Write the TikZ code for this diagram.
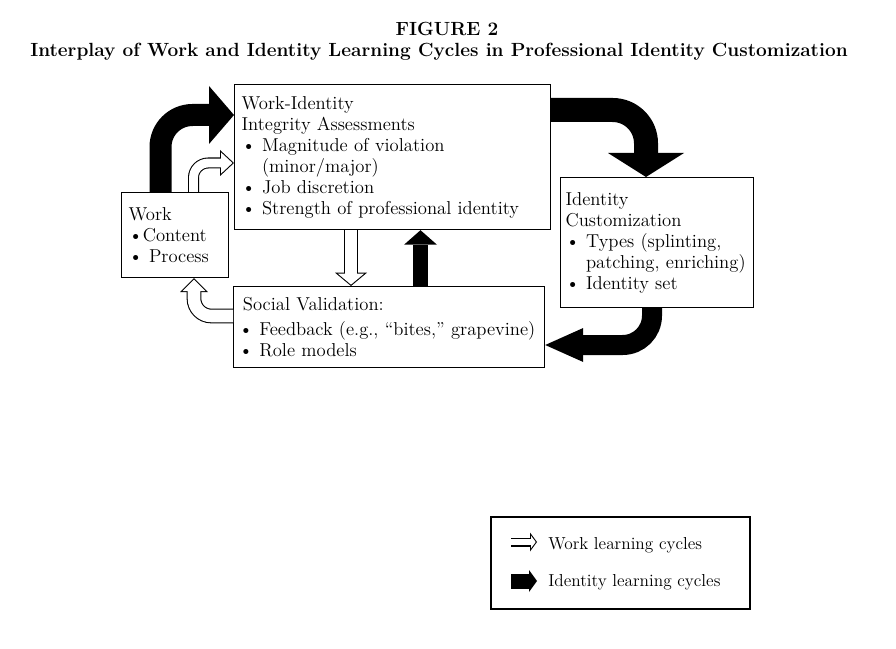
\documentclass[tikz,border=0pt]{standalone}
\usepackage{tikz}
\usetikzlibrary{arrows.meta, calc}
\newcommand{\titlefont}{\fontsize{14.3}{16}\selectfont\bfseries}
\newcommand{\boxfont}{\fontsize{14}{15.75}\selectfont}
\newcommand{\legfont}{\fontsize{13}{14}\selectfont}
\newcommand{\hang}{\phantom{\textbullet\ }}
\tikzstyle{box} = [rectangle, draw=black, line width=0.9pt, anchor=north west, align=left, inner ysep=0pt, font=\boxfont]
\tikzstyle{legendbox} = [rectangle, draw=black, line width=1.2pt, anchor=north west, inner sep=0pt]
\tikzstyle{legendtext} = [anchor=west, inner sep=0pt, font=\legfont]
% black block arrow: shaft / head width / head length (pt)
\tikzset{idarrow/.style args={#1/#2/#3}{draw=black, line width=#1pt, -{Triangle[length=#3pt, width=#2pt, line width=0pt]}}}
% white block arrow with a thin black outline
\tikzset{workarrow/.code args={#1/#2/#3}{%
    \pgfmathsetmacro\wkback{0.8/sin(atan(#2/2/#3))}%
    \pgfmathsetmacro\wklen{#3-0.8-\wkback}%
    \pgfmathsetmacro\wkwid{#2*\wklen/#3}%
    \pgfmathsetmacro\wkline{#1-1.6}%
    \tikzset{preaction={draw=black, line width=#1pt, shorten >=0pt,
        -{Triangle[length=#3pt, width=#2pt, line width=0pt]}},
      draw=white, line width=\wkline pt, shorten >=\wkback pt,
      -{Triangle[length=\wklen pt, width=\wkwid pt, line width=0pt]}}%
  }}

\begin{document}
\begin{tikzpicture}[x=0.75pt, y=-0.75pt]
\useasboundingbox (0,0) rectangle (896,649);
% title
\node (fig) [anchor=base, font=\titlefont] at (447,36) {FIGURE 2};
\node (title) [anchor=base, font=\titlefont] at (439,57) {Interplay of Work and Identity Learning Cycles in Professional Identity Customization};
% boxes
\node (wia) [box, text width=226.5pt, inner xsep=5.25pt, minimum height=108.75pt] at (234,84)
  {Work-Identity\\Integrity Assessments\\\textbullet\ Magnitude of violation\\\hang(minor/major)\\\textbullet\ Job discretion\\\textbullet\ Strength of professional identity};
\node (work) [box, text width=69.75pt, inner xsep=5.25pt, minimum height=63.75pt] at (121,192)
  {Work\\\textbullet Content\\\textbullet\ Process};
\node (ic) [box, text width=137.25pt, inner xsep=3.75pt, minimum height=97.5pt] at (560,177)
  {Identity\\Customization\\\textbullet\ Types (splinting,\\\hang patching, enriching)\\\textbullet\ Identity set};
\node (sv) [box, text width=225.25pt, inner xsep=4pt, minimum height=60.75pt] at (233,286)
  {\hspace*{3pt}Social Validation:\\[3pt]\textbullet\ Feedback (e.g., “bites,” grapevine)\\\textbullet\ Role models};
% identity learning cycles
\draw [idarrow=16.5/43.5/18.75, rounded corners=24pt] ($(work.north west)+(39.5,0)$) |- ($(wia.north west)+(0,31)$);
\draw [idarrow=18/57/18, rounded corners=25pt] ($(wia.north east)+(0,26)$) -| ($(ic.north west)+(86,0)$);
\draw [idarrow=15/25.5/28.5, rounded corners=22pt] ($(ic.south west)+(92,0)$) |- ($(sv.north east)+(0,59)$);
\draw [idarrow=11.7/24.75/10.9] ($(sv.north west)+(187.5,0)$) coordinate (c1) -- (c1 |- wia.south);
% work learning cycles
\draw [workarrow=8.25/19.5/10.5, rounded corners=11pt] ($(work.north west)+(72.5,0)$) |- ($(wia.north west)+(0,79)$);
\draw [workarrow=11/24/10] ($(wia.south west)+(117,0)$) coordinate (b1) -- (b1 |- sv.north);
\draw [workarrow=11/21/10.5, rounded corners=13pt] ($(sv.north west)+(0,30)$) -| ($(work.south west)+(73,0)$);
% legend
\node (legend) [legendbox, minimum width=194.25pt, minimum height=69pt] at (490,516) {};
\node (wlc) [legendtext] at ($(legend.north west)+(58,29)$) {Work learning cycles};
\node (ilc) [legendtext] at ($(legend.north west)+(58,66)$) {Identity learning cycles};
\draw [workarrow=6.75/14.25/5.25] ($(wlc.west)+(-37,-3)$) -- ($(wlc.west)+(-11,-3)$);
\draw [idarrow=11.25/16.5/6] ($(ilc.west)+(-37,-1)$) -- ($(ilc.west)+(-11,-1)$);
\end{tikzpicture}
\end{document}
